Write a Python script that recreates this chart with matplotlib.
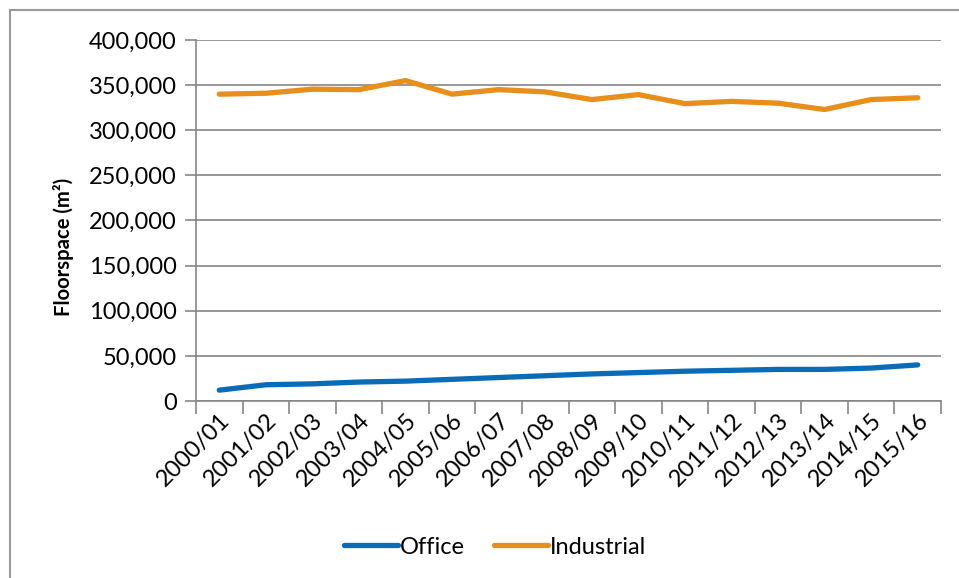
import matplotlib.pyplot as plt
from matplotlib.patches import Rectangle
from matplotlib.ticker import FuncFormatter, FixedLocator

years = ["2000/01", "2001/02", "2002/03", "2003/04", "2004/05", "2005/06",
         "2006/07", "2007/08", "2008/09", "2009/10", "2010/11", "2011/12",
         "2012/13", "2013/14", "2014/15", "2015/16"]
office = [12000, 18000, 19000, 21000, 22000, 24000, 26000, 28000,
          30000, 31500, 33000, 34000, 35000, 35000, 36500, 40000]
industrial = [340000, 341000, 345500, 345000, 355000, 340000, 345000, 342500,
              334000, 339500, 329500, 332000, 330000, 323000, 334000, 336000]

plt.rcParams['font.family'] = ['Lato', 'DejaVu Sans']
grey = '#868686'

fig = plt.figure(figsize=(9.59, 5.78), dpi=100)
# chart border (only left/top visible, runs off the right and bottom)
fig.patches.append(Rectangle((10 / 959, -0.05), 1.0, 1 - 10 / 578 + 0.05,
                             transform=fig.transFigure, fill=False,
                             edgecolor='#9a9a9a', linewidth=1.5))

ax = fig.add_axes([196 / 959, 1 - 401 / 578, 745 / 959, 361 / 578])
x = list(range(len(years)))
ax.plot(x, office, color='#0A6BB7', linewidth=3.8, solid_capstyle='round',
        label='Office', zorder=3)
ax.plot(x, industrial, color='#E88E1A', linewidth=3.8, solid_capstyle='round',
        label='Industrial', zorder=3)

ax.set_xlim(-0.5, len(years) - 0.5)
ax.set_ylim(0, 400000)
ax.set_yticks(range(0, 400001, 50000))
ax.yaxis.set_major_formatter(FuncFormatter(lambda v, p: f"{int(v):,}"))
ax.grid(axis='y', color=grey, linewidth=1.2)
ax.set_axisbelow(True)

# category boundary ticks on the x axis, labels centred on categories
ax.xaxis.set_major_locator(FixedLocator([i - 0.5 for i in range(len(years) + 1)]))
ax.xaxis.set_major_formatter(FuncFormatter(lambda v, p: ""))
ax.xaxis.set_minor_locator(FixedLocator(x))
ax.set_xticklabels(years, minor=True, rotation=45, ha='right',
                   rotation_mode='anchor', fontsize=17)
ax.tick_params(axis='x', which='major', length=9, width=1.2, color=grey)
ax.tick_params(axis='x', which='minor', length=0, pad=6)
ax.tick_params(axis='y', length=8, width=1.2, color=grey, labelsize=17, pad=6)

for s in ['top', 'right']:
    ax.spines[s].set_visible(False)
for s in ['left', 'bottom']:
    ax.spines[s].set_color(grey)
    ax.spines[s].set_linewidth(1.2)

fig.text(63 / 959, 1 - 247 / 578, "Floorspace (m²)", rotation=90,
         ha='center', va='center', fontsize=14.6, fontweight='bold')

fig.legend(loc='center', bbox_to_anchor=(495 / 959, 1 - 547 / 578), ncol=2,
           frameon=False, fontsize=17, handlelength=2.3, handletextpad=0.1,
           columnspacing=1.2)

plt.savefig("out.png", dpi=100)
